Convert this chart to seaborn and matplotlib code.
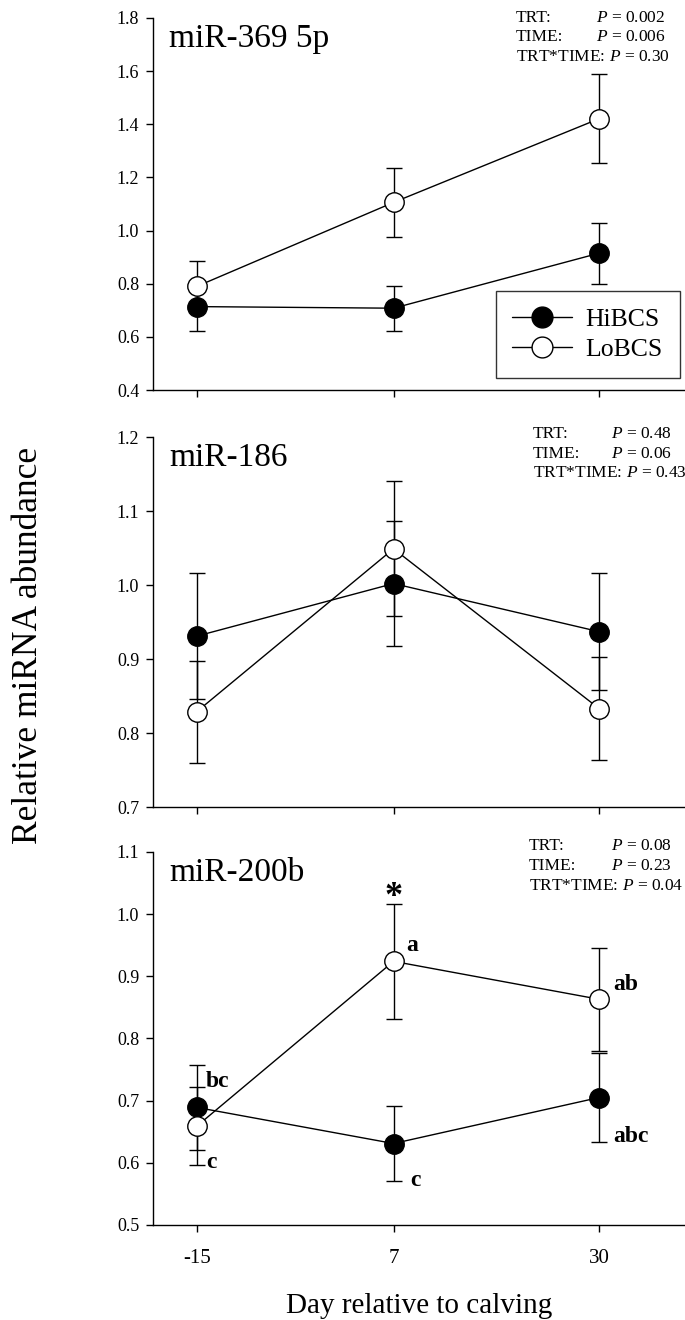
import matplotlib
matplotlib.use("Agg")
import matplotlib.pyplot as plt
import seaborn as sns
import pandas as pd
from matplotlib.lines import Line2D

sns.set_theme(style="ticks")
plt.rcParams['font.family'] = ['Liberation Serif', 'DejaVu Serif']
plt.rcParams['mathtext.fontset'] = 'custom'
plt.rcParams['mathtext.rm'] = 'Liberation Serif'
plt.rcParams['mathtext.it'] = 'Liberation Serif:italic'
for k in ['text.color', 'axes.labelcolor', 'xtick.color', 'ytick.color', 'axes.edgecolor']:
    plt.rcParams[k] = 'black'

days = [-15, 7, 30]
groups = ["HiBCS", "LoBCS"]

mir369_hi = [0.714, 0.708, 0.915]
mir369_hi_se = [0.090, 0.085, 0.115]
mir369_lo = [0.790, 1.106, 1.421]
mir369_lo_se = [0.094, 0.131, 0.168]

mir186_hi = [0.931, 1.002, 0.937]
mir186_hi_se = [0.085, 0.084, 0.079]
mir186_lo = [0.829, 1.049, 0.833]
mir186_lo_se = [0.069, 0.091, 0.070]

mir200_hi = [0.689, 0.631, 0.705]
mir200_hi_se = [0.069, 0.061, 0.071]
mir200_lo = [0.659, 0.924, 0.863]
mir200_lo_se = [0.063, 0.092, 0.083]

titles = ["miR-369 5p", "miR-186", "miR-200b"]
pvals = [["0.002", "0.006", "0.30"], ["0.48", "0.06", "0.43"], ["0.08", "0.23", "0.04"]]
ylims = [(0.4, 1.8), (0.7, 1.2), (0.5, 1.1)]
yticks = [[0.4, 0.6, 0.8, 1.0, 1.2, 1.4, 1.6, 1.8],
          [0.7, 0.8, 0.9, 1.0, 1.1, 1.2],
          [0.5, 0.6, 0.7, 0.8, 0.9, 1.0, 1.1]]

letters = ["a", "ab", "bc", "c", "c", "abc", "*"]
letter_x = [8.4, 31.6, -14.0, -14.0, 8.9, 31.6, 7]
letter_y = [0.950, 0.886, 0.730, 0.600, 0.572, 0.643, 1.026]

fig = plt.figure(figsize=(6.85, 13.2), dpi=100)
boxes = [(0.2234, 0.7045, 0.7766, 0.2819),
         (0.2234, 0.3886, 0.7766, 0.2803),
         (0.2234, 0.0720, 0.7766, 0.2826)]
data = [(mir369_hi, mir369_hi_se, mir369_lo, mir369_lo_se, True),
        (mir186_hi, mir186_hi_se, mir186_lo, mir186_lo_se, False),
        (mir200_hi, mir200_hi_se, mir200_lo, mir200_lo_se, False)]
# P-value block placement (axes coords): first-line centre y, left x, right x
pblock = [(1.000, 0.682, 0.964), (1.007, 0.714, 0.976), (1.015, 0.707, 0.976)]

ms = 14
for i, (box, (hi, hise, lo, lose, hi_top)) in enumerate(zip(boxes, data)):
    ax = fig.add_axes(box)
    df = pd.DataFrame({"day": days * 2, "val": hi + lo,
                       "grp": [groups[0]] * 3 + [groups[1]] * 3})
    zhi, zlo = (4, 3) if hi_top else (3, 4)
    ax.errorbar(days, hi, yerr=hise, fmt='none', ecolor='black', elinewidth=1.0,
                capsize=6, capthick=1.0, zorder=1)
    ax.errorbar(days, lo, yerr=lose, fmt='none', ecolor='black', elinewidth=1.0,
                capsize=6, capthick=1.0, zorder=1)
    sns.lineplot(data=df[df.grp == "HiBCS"], x="day", y="val", ax=ax, color='black',
                 marker='o', markersize=ms, markerfacecolor='black', markeredgecolor='black',
                 markeredgewidth=1.0, linewidth=1.0, zorder=zhi, legend=False)
    sns.lineplot(data=df[df.grp == "LoBCS"], x="day", y="val", ax=ax, color='black',
                 marker='o', markersize=ms, markerfacecolor='white', markeredgecolor='black',
                 markeredgewidth=1.0, linewidth=1.0, zorder=zlo, legend=False)
    ax.set_xlim(-19.9, 39.6)
    ax.set_ylim(*ylims[i])
    ax.set_yticks(yticks[i])
    ax.set_yticklabels([f"{v:.1f}" for v in yticks[i]], fontsize=13)
    ax.set_xticks(days)
    if i == 2:
        ax.set_xticklabels([str(d) for d in days], fontsize=15)
        ax.set_xlabel("Day relative to calving", fontsize=21, labelpad=18)
    else:
        ax.set_xticklabels([])
        ax.set_xlabel("")
    ax.set_ylabel("")
    for s in ["top", "right"]:
        ax.spines[s].set_visible(False)
    for s in ["left", "bottom"]:
        ax.spines[s].set_linewidth(1.0)
        ax.spines[s].set_color('black')
    ax.tick_params(axis='both', direction='out', length=5, width=1.0, colors='black', pad=5)
    ax.tick_params(axis='x', pad=12)
    ax.text(0.03, 0.985, titles[i], transform=ax.transAxes, fontsize=24,
            ha='left', va='top')
    # P-value block
    pv = pvals[i]
    y0, xl, xr = pblock[i]
    dy = 0.0525
    fs = 12.5
    ax.text(xl, y0, "TRT:", transform=ax.transAxes, fontsize=fs, ha='left', va='center')
    ax.text(xr, y0, "$P$ = " + pv[0], transform=ax.transAxes, fontsize=fs, ha='right', va='center')
    ax.text(xl, y0 - dy, "TIME:", transform=ax.transAxes, fontsize=fs, ha='left', va='center')
    ax.text(xr, y0 - dy, "$P$ = " + pv[1], transform=ax.transAxes, fontsize=fs, ha='right', va='center')
    ax.text(xl, y0 - 2 * dy, "TRT*TIME: $P$ = " + pv[2], transform=ax.transAxes, fontsize=fs,
            ha='left', va='center')
    if i == 0:
        handles = [Line2D([], [], color='black', marker='o', markersize=15, markerfacecolor='black',
                          linewidth=1.0),
                   Line2D([], [], color='black', marker='o', markersize=15, markerfacecolor='white',
                          linewidth=1.0)]
        leg = ax.legend(handles, groups, loc='lower right', bbox_to_anchor=(0.99, 0.032),
                        borderaxespad=0, fontsize=18.5, frameon=True, fancybox=False,
                        edgecolor='black', handlelength=2.3, borderpad=0.65,
                        labelspacing=0.3, handletextpad=0.55)
        leg.get_frame().set_linewidth(1.0)
    if i == 2:
        for t, x, y in zip(letters, letter_x, letter_y):
            if t == "*":
                ax.text(x, y, t, fontsize=26, fontweight='bold', ha='center', va='center')
            else:
                ax.text(x, y, t, fontsize=17, fontweight='bold', ha='left', va='center')

fig.text(0.042, 0.511, "Relative miRNA abundance", rotation=90, fontsize=25.5,
         ha='center', va='center')

fig.savefig("out.png", dpi=100)
